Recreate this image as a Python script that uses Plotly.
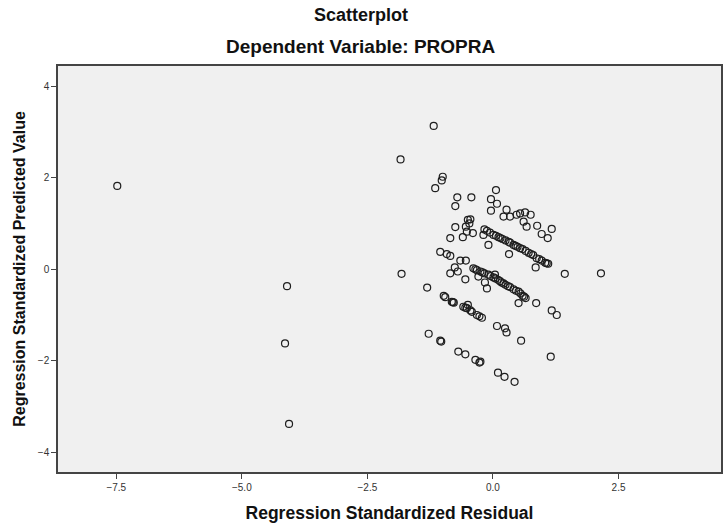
import plotly.graph_objects as go

# Regression standardized residual (x) and standardized predicted value (y)
residual = [
    -7.48, -4.10, -4.14, -4.06, -1.84, -1.82, -1.31, -1.18,
    -1.00, -1.02, -1.15, 0.06, -0.71, -0.43, -0.04,
    -0.75, 0.08, -0.04, 0.27, 0.21, 0.34, 0.47, 0.54, 0.64, 0.75,
    0.61, 0.67, 0.88, 1.17, 0.97, 1.09,
    -0.50, -0.45, -0.47, -0.75, -0.54, -0.52, -0.40, -0.85, -0.60,
    -0.17, -0.06, 0.01, 0.11, 0.19, 0.31, 0.34, 0.41, 0.49, 0.59, 0.71, 0.80, 0.87, 0.97, 1.04, 1.10,
    -0.12, 0.06, 0.15, 0.25, 0.45, 0.54, 0.65, 0.76, 0.92, 1.07,
    -0.09, 0.32, 0.85, -0.19,
    -1.05, -0.92, -0.85, -0.65, -0.54, -0.76, -0.70, -0.85, -0.55,
    -0.39, -0.32, -0.25, -0.17, -0.09, 0.01, 0.10, 0.17, 0.25, 0.34, 0.41, 0.51, 0.59, 0.65,
    -0.35, -0.21, -0.05, 0.05, 0.14, 0.21, 0.30, 0.46, 0.55, 0.62,
    -0.29, -0.16, -0.12, 0.04, 0.51, 0.86,
    1.43, 2.15, 1.17, 1.27,
    -0.98, -0.95, -0.82, -0.78, -0.59, -0.52, -0.50, -0.42, -0.32, -0.22,
    -0.80, -0.55, -0.45, -0.27,
    0.08, 0.24, 0.27, 0.56, 1.15,
    -1.28, -1.05, -1.03, -0.69, -0.55, -0.35, -0.27, -0.25,
    0.10, 0.23, 0.43,
]
predicted = [
    1.82, -0.37, -1.62, -3.38, 2.40, -0.10, -0.40, 3.13,
    2.02, 1.94, 1.77, 1.73, 1.57, 1.57, 1.53,
    1.38, 1.43, 1.28, 1.30, 1.15, 1.15, 1.19, 1.22, 1.24, 1.19,
    1.04, 0.93, 0.95, 0.88, 0.77, 0.68,
    1.08, 1.09, 1.00, 0.92, 0.93, 0.82, 0.79, 0.68, 0.70,
    0.87, 0.80, 0.75, 0.70, 0.66, 0.60, 0.58, 0.53, 0.49, 0.44, 0.36, 0.31, 0.24, 0.19, 0.14, 0.12,
    0.84, 0.73, 0.68, 0.63, 0.51, 0.46, 0.40, 0.33, 0.22, 0.13,
    0.53, 0.33, 0.04, 0.75,
    0.38, 0.33, 0.29, 0.19, 0.19, 0.04, -0.05, -0.09, -0.22,
    0.02, -0.02, -0.05, -0.09, -0.12, -0.18, -0.23, -0.29, -0.34, -0.39, -0.44, -0.49, -0.58, -0.63,
    0.00, -0.07, -0.15, -0.20, -0.26, -0.31, -0.37, -0.47, -0.53, -0.60,
    -0.16, -0.29, -0.42, -0.12, -0.74, -0.74,
    -0.10, -0.09, -0.90, -1.00,
    -0.58, -0.61, -0.71, -0.73, -0.82, -0.85, -0.78, -0.93, -1.00, -1.06,
    -0.72, -0.84, -0.90, -1.03,
    -1.24, -1.29, -1.38, -1.56, -1.91,
    -1.41, -1.56, -1.58, -1.80, -1.86, -1.98, -2.04, -2.02,
    -2.26, -2.35, -2.46,
]

x_ticks = [-7.5, -5.0, -2.5, 0.0, 2.5]
y_ticks = [-4, -2, 0, 2, 4]
title_lines = ["Scatterplot", "Dependent Variable: PROPRA"]

W, H = 725, 523
ML, MR, MT, MB = 58, 2, 66, 51
plot_w, plot_h = W - ML - MR, H - MT - MB

fig = go.Figure()
fig.add_trace(go.Scatter(
    x=residual, y=predicted, mode="markers",
    marker=dict(symbol="circle-open", size=7, color="#1e1e1e", line=dict(width=1.2)),
    hoverinfo="x+y", showlegend=False,
))

font_main = "Liberation Sans, Arial, sans-serif"
annots = []
for txt, py, fs in zip(title_lines, [15, 47], [18, 19]):
    annots.append(dict(
        text="<b>%s</b>" % txt, x=(362 - ML) / plot_w, y=(H - MB - py) / plot_h,
        xref="paper", yref="paper", xanchor="center", yanchor="middle",
        showarrow=False, font=dict(size=fs, color="#111"),
    ))

fig.update_layout(
    width=W, height=H,
    margin=dict(l=ML, r=MR, t=MT, b=MB),
    paper_bgcolor="white", plot_bgcolor="#f0f0f0",
    font=dict(family=font_main, size=10, color="#333"),
    annotations=annots,
)

fig.update_xaxes(
    range=[-8.66, 4.54], tickvals=x_ticks, tickformat=".1f",
    showgrid=False, zeroline=False, showline=True, linecolor="#444", linewidth=1.5,
    mirror=True, ticks="outside", ticklen=5, tickcolor="#444",
    title=dict(text="<b>Regression Standardized Residual</b>", font=dict(size=17.5, color="#111"), standoff=15),
)
fig.update_yaxes(
    range=[-4.43, 4.44], tickvals=y_ticks,
    showgrid=False, zeroline=False, showline=True, linecolor="#444", linewidth=1.5,
    mirror=True, ticks="outside", ticklen=5, tickcolor="#444",
    title=dict(text="<b>Regression Standardized Predicted Value</b>", font=dict(size=16, color="#111"), standoff=8),
)

fig.write_html("out.html")
